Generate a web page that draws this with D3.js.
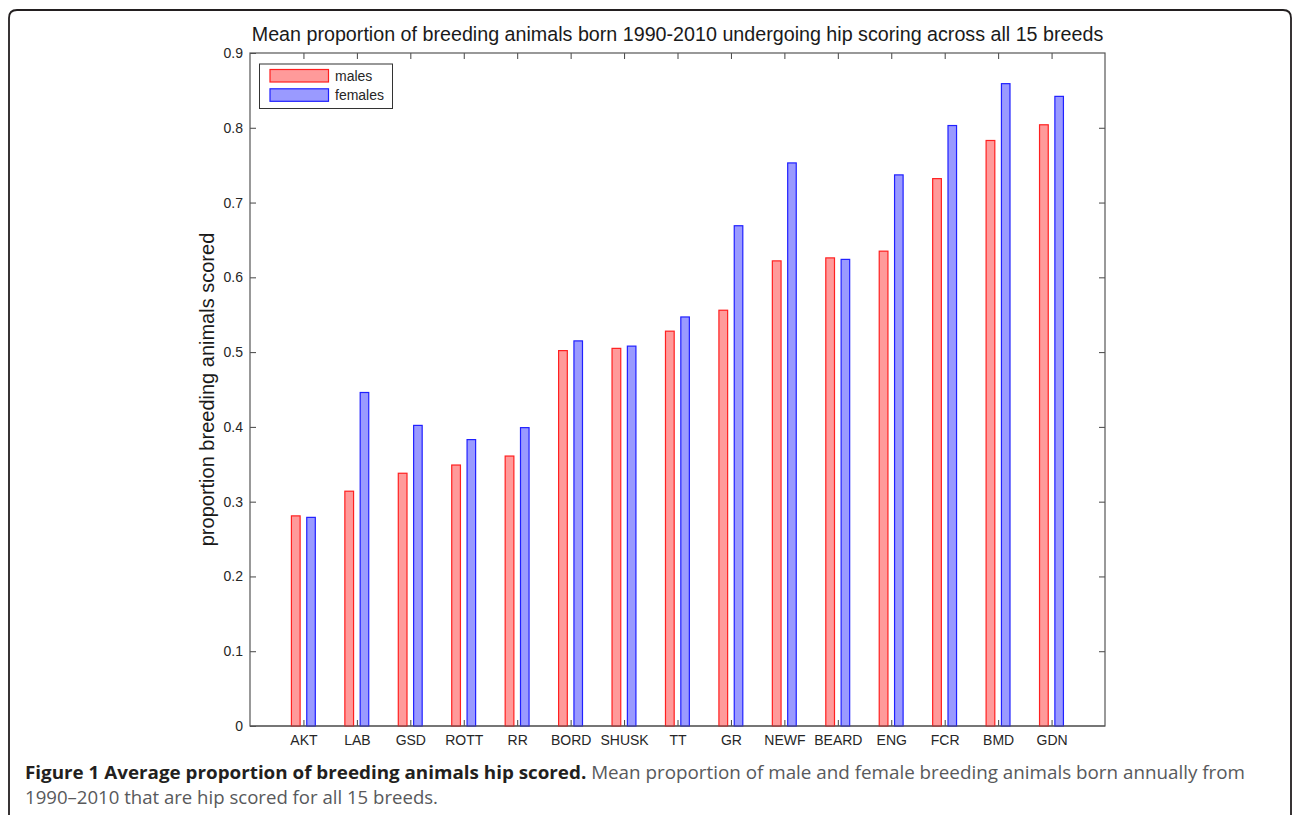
<!DOCTYPE html>
<html>
<head>
<meta charset="utf-8">
<script src="https://cdn.jsdelivr.net/npm/d3@7"></script>
<style>
  body { margin: 0; background: #fff; }
  svg { display: block; }
</style>
</head>
<body>
<svg id="chart" width="1292" height="815"></svg>
<script>
// values
var breeds = ["AKT", "LAB", "GSD", "ROTT", "RR", "BORD", "SHUSK", "TT", "GR", "NEWF", "BEARD", "ENG", "FCR", "BMD", "GDN"]
var males = [0.281, 0.314, 0.338, 0.349, 0.361, 0.502, 0.505, 0.528, 0.556, 0.622, 0.626, 0.635, 0.732, 0.783, 0.804]
var females = [0.279, 0.446, 0.402, 0.383, 0.399, 0.515, 0.508, 0.547, 0.669, 0.753, 0.624, 0.737, 0.803, 0.859, 0.842]
var yTicks = [0, 0.1, 0.2, 0.3, 0.4, 0.5, 0.6, 0.7, 0.8, 0.9]
var seriesNames = ["males", "females"]

var svg = d3.select("#chart")

var plot = { left: 250, right: 1105, top: 53, bottom: 726 }

// panel frame with rounded corners (bottom runs off the page)
svg.append("path")
  .attr("d", "M9,830 L9,18 Q9,10 17,10 L1283,10 Q1291,10 1291,18 L1291,830")
  .attr("fill", "none")
  .attr("stroke", "#231f20")
  .attr("stroke-width", 1.8)

var x = d3.scaleLinear().domain([0, breeds.length + 1]).range([plot.left, plot.right])
var y = d3.scaleLinear().domain([0, 0.9]).range([plot.bottom, plot.top])

var tickIdx = d3.range(1, breeds.length + 1)
var font = "'Liberation Sans', Arial, sans-serif"

function styleAxis(g) {
  g.select(".domain").remove()
  g.selectAll(".tick line").attr("stroke", "#444").attr("stroke-width", 1)
  g.selectAll(".tick text").attr("fill", "#262626").style("font-family", font).style("font-size", "14px")
}

svg.append("g")
  .attr("transform", "translate(" + plot.left + ",0)")
  .call(d3.axisLeft(y).tickValues(yTicks).tickSize(-6).tickPadding(7).tickFormat(d3.format("~g")))
  .call(styleAxis)

svg.append("g")
  .attr("transform", "translate(" + plot.right + ",0)")
  .call(d3.axisRight(y).tickValues(yTicks.slice(1, -1)).tickSize(-6).tickFormat(""))
  .call(styleAxis)

svg.append("g")
  .attr("transform", "translate(0," + plot.bottom + ")")
  .call(d3.axisBottom(x).tickValues(tickIdx).tickSize(-6).tickPadding(9).tickFormat(function(d) { return breeds[d - 1] }))
  .call(styleAxis)

svg.append("g")
  .attr("transform", "translate(0," + plot.top + ")")
  .call(d3.axisTop(x).tickValues(tickIdx).tickSize(-6).tickFormat(""))
  .call(styleAxis)

svg.append("rect")
  .attr("x", plot.left).attr("y", plot.top)
  .attr("width", plot.right - plot.left).attr("height", plot.bottom - plot.top)
  .attr("fill", "none").attr("stroke", "#555").attr("stroke-width", 1.2)

var colors = {
  males: { fill: "#ff9a9a", stroke: "#ff2020" },
  females: { fill: "#9a9aff", stroke: "#2020ff" }
}

// grouped bars, offsets in category units
var barOffset = { males: [-0.225, -0.062], females: [0.062, 0.222] }

function drawBars(values, name) {
  svg.append("g").selectAll("rect")
    .data(values)
    .enter()
    .append("rect")
    .attr("x", function(d, i) { return x(i + 1 + barOffset[name][0]) })
    .attr("width", function(d, i) { return x(i + 1 + barOffset[name][1]) - x(i + 1 + barOffset[name][0]) })
    .attr("y", function(d) { return y(d) })
    .attr("height", function(d) { return y(0) - y(d) })
    .attr("fill", colors[name].fill)
    .attr("stroke", colors[name].stroke)
    .attr("stroke-width", 1.2)
}
drawBars(males, "males")
drawBars(females, "females")

// redraw the baseline over the bars
svg.append("line")
  .attr("x1", plot.left).attr("x2", plot.right)
  .attr("y1", plot.bottom).attr("y2", plot.bottom)
  .attr("stroke", "#555").attr("stroke-width", 1.2)

// legend
var legend = svg.append("g")
legend.append("rect")
  .attr("x", 259.5).attr("y", 64).attr("width", 133).attr("height", 44.5)
  .attr("fill", "#fff").attr("stroke", "#333").attr("stroke-width", 1)

seriesNames.forEach(function(name, i) {
  legend.append("rect")
    .attr("x", 270).attr("y", 69.5 + i * 19.3).attr("width", 58.5).attr("height", 12.5)
    .attr("fill", colors[name].fill).attr("stroke", colors[name].stroke).attr("stroke-width", 1.2)
  legend.append("text")
    .attr("x", 335).attr("y", 81 + i * 19.3)
    .style("font-family", font).style("font-size", "14px").attr("fill", "#262626")
    .text(name)
})

svg.append("text")
  .attr("x", (plot.left + plot.right) / 2).attr("y", 41)
  .attr("text-anchor", "middle")
  .style("font-family", font).style("font-size", "19.7px").attr("fill", "#1a1a1a")
  .text("Mean proportion of breeding animals born 1990-2010 undergoing hip scoring across all 15 breeds")

svg.append("text")
  .attr("transform", "translate(214," + (plot.top + plot.bottom) / 2 + ") rotate(-90)")
  .attr("text-anchor", "middle")
  .style("font-family", font).style("font-size", "20px").attr("fill", "#1a1a1a")
  .text("proportion breeding animals scored")

// figure caption
var capFont = "'Open Sans', 'Noto Sans', sans-serif"
var cap1 = svg.append("text")
  .attr("x", 25).attr("y", 779)
  .attr("textLength", 1220).attr("lengthAdjust", "spacingAndGlyphs")
  .style("font-family", capFont).style("font-size", "18px")
cap1.append("tspan")
  .attr("fill", "#231f20").style("font-weight", "bold")
  .text("Figure 1 Average proportion of breeding animals hip scored.")
cap1.append("tspan")
  .attr("fill", "#58595b")
  .text(" Mean proportion of male and female breeding animals born annually from")

svg.append("text")
  .attr("x", 25).attr("y", 804)
  .attr("textLength", 413).attr("lengthAdjust", "spacingAndGlyphs")
  .style("font-family", capFont).style("font-size", "18px")
  .attr("fill", "#58595b")
  .text("1990\u20132010 that are hip scored for all 15 breeds.")
</script>
</body>
</html>
